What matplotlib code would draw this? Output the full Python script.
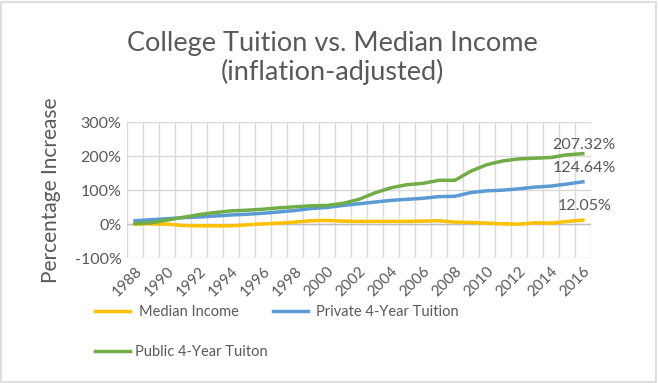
import matplotlib.pyplot as plt
import numpy as np

years = list(range(1988, 2017))
median_income = [0, 1, 0, -4, -5, -5, -5, -2, 1, 3, 6, 10, 11, 9, 8, 8, 8, 8, 9, 10,
                 6, 5, 3, 1, 0, 4, 3, 8, 12.05]
private_tuition = [10, 13, 16, 19, 21, 24, 27, 29, 32, 36, 40, 46, 49, 55, 60, 65, 70, 73,
                   76, 81, 82, 93, 98, 100, 104, 109, 112, 118, 124.64]
public_tuition = [2, 4, 12, 20, 28, 34, 39, 41, 44, 48, 51, 54, 55, 61, 73, 92, 107, 116,
                  120, 129, 129, 156, 175, 186, 192, 194, 196, 204, 207.32]
yticks = [-100, 0, 100, 200, 300]

plt.rcParams['font.family'] = ['Lato', 'DejaVu Sans']
txt = '#595959'
grid = '#D9D9D9'

fig = plt.figure(figsize=(6.58, 3.83), dpi=100)
fig.patches.append(plt.Rectangle((0.002, 0.003), 0.995, 0.993, transform=fig.transFigure,
                                 fill=False, edgecolor='#D9D9D9', lw=1.2))
ax = fig.add_axes([0.193, 0.326, 0.705, 0.355])

x = np.arange(len(years))
ax.plot(x, median_income, color='#FFC000', lw=2.5, solid_joinstyle='round', zorder=3)
ax.plot(x, private_tuition, color='#5B9BD5', lw=2.5, solid_joinstyle='round', zorder=3)
ax.plot(x, public_tuition, color='#70AD47', lw=2.5, solid_joinstyle='round', zorder=3)

ax.set_xlim(-0.5, len(years) - 0.5)
ax.set_ylim(-100, 300)
ax.set_yticks(yticks)
ax.set_yticklabels([f'{v}%' for v in yticks], fontsize=11.5, color=txt)
ax.set_xticks(x[::2])
ax.set_xticklabels([str(y) for y in years[::2]], rotation=45, ha='right',
                   rotation_mode='anchor', fontsize=11, color=txt)
ax.set_xticks(np.arange(-0.5, len(years)), minor=True)
ax.tick_params(axis='both', length=0, which='both', pad=4)
ax.grid(True, which='minor', axis='x', color=grid, lw=1)
ax.grid(True, which='major', axis='y', color=grid, lw=1)
for s in ax.spines.values():
    s.set_visible(False)
ax.axhline(0, color='#BFBFBF', lw=1, zorder=2)
ax.set_ylabel('Percentage Increase', fontsize=15, color=txt, labelpad=10)

for series, dy in [(public_tuition, 6), (private_tuition, 10), (median_income, 10)]:
    ax.annotate(f'{series[-1]:.2f}%', (x[-1], series[-1]), xytext=(1, dy),
                textcoords='offset points', fontsize=11.5, color=txt, ha='center', va='center')

fig.text(0.505, 0.848, 'College Tuition vs. Median Income\n(inflation-adjusted)',
         ha='center', va='center', fontsize=19.5, color=txt, linespacing=1.15)

handles = [plt.Line2D([], [], color=c, lw=2.5) for c in ['#FFC000', '#5B9BD5', '#70AD47']]
labels = ['Median Income', 'Private 4-Year Tuition', 'Public 4-Year Tuiton']
fig.legend(handles[:2], labels[:2], loc='center left', bbox_to_anchor=(0.125, 0.185),
           ncol=2, frameon=False, fontsize=10.5, labelcolor=txt, handlelength=2.4,
           handletextpad=0.6, columnspacing=2.3)
fig.legend(handles[2:], labels[2:], loc='center left', bbox_to_anchor=(0.125, 0.08),
           frameon=False, fontsize=10.5, labelcolor=txt, handlelength=2.4, handletextpad=0.3)

fig.savefig('out.png', dpi=100)
